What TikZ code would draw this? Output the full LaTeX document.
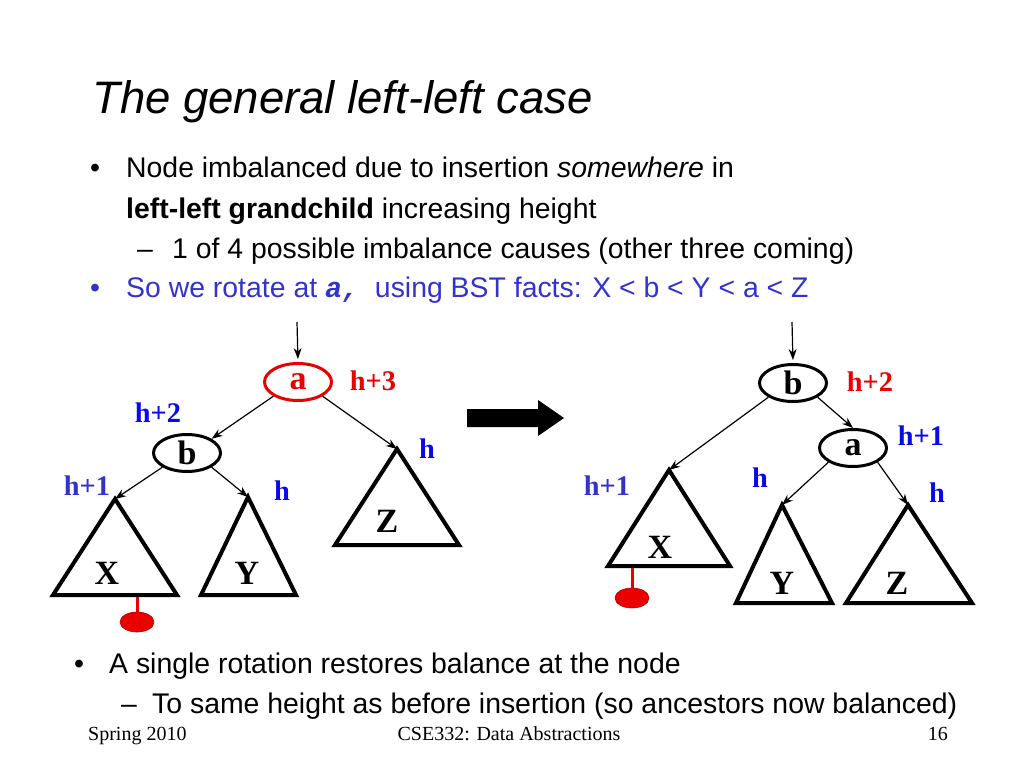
\documentclass[tikz,border=0pt]{standalone}
\usepackage{fontspec}
\setmainfont{Liberation Sans}
\setmonofont{Liberation Mono}
\newfontfamily\serifb{Liberation Serif}
\usetikzlibrary{shapes.geometric,arrows.meta}
\definecolor{txtblue}{RGB}{51,51,204}
\definecolor{hblue}{RGB}{10,10,230}
\definecolor{hred}{RGB}{235,0,0}
\definecolor{dotred}{RGB}{235,0,0}
\begin{document}
\begin{tikzpicture}[x=1pt,y=-1pt,
  tnode/.style={ellipse, draw, line width=3pt, minimum width=67pt, minimum height=37pt, inner sep=0pt,
    font=\serifb\bfseries\fontsize{34}{34}\selectfont},
  tlab/.style={inner sep=0pt, font=\serifb\bfseries\fontsize{34}{34}\selectfont},
  hlab/.style={inner sep=0pt, font=\serifb\bfseries\fontsize{28.4}{30}\selectfont},
  tri/.style={line width=4pt, line join=miter},
  edge/.style={line width=1.2pt, -{Stealth[length=11pt,width=8pt]}},
  body/.style={anchor=base west, inner sep=0pt, font=\fontsize{28.4}{34}\selectfont},
  foot/.style={anchor=base, inner sep=0pt, font=\serifb\fontsize{20}{24}\selectfont},
  insline/.style={draw=dotred, line width=3pt},
  insdot/.style={ellipse, fill=dotred, draw=red!70!black, line width=0.6pt, minimum width=34pt, minimum height=20pt, inner sep=0pt}
]
\useasboundingbox (0,0) rectangle (1024,768);

% ---- title and text ----
\node[anchor=base west, inner sep=0pt, font=\itshape\fontsize{45.5}{50}\selectfont] (title) at (92,113) {The general left-left case};
\node[body] (b1) at (90,177) {•};
\node[body] (t1) at (126,177) {Node imbalanced due to insertion \textit{somewhere} in};
\node[body] (t2) at (126,218) {\textbf{left-left grandchild} increasing height};
\node[body] (d3) at (137,258) {–};
\node[body] (t3) at (172,258) {1 of 4 possible imbalance causes (other three coming)};
\node[body, text=txtblue] (b4) at (90,297) {•};
\node[body, text=txtblue] (t4) at (126,297) {So we rotate at {\ttfamily\bfseries\itshape a,} \ using BST facts: X < b < Y < a < Z};

\node[body] (b5) at (74,673) {•};
\node[body] (t5) at (109,673) {A single rotation restores balance at the node};
\node[body] (d6) at (121,713) {–};
\node[body] (t6) at (152,713) {To same height as before insertion (so ancestors now balanced)};

\node[foot, anchor=base west] (f1) at (88,740) {Spring 2010};
\node[foot] (f2) at (509,740) {CSE332: Data Abstractions};
\node[foot, anchor=base east] (f3) at (948,740) {16};

% ---- big arrow ----
\fill (467,409) -- (538,409) -- (538,400) -- (564,418) -- (538,436) -- (538,427) -- (467,427) -- cycle;

% ---- left tree ----
\node[tnode, draw=hred, text=hred] (la) at (298,382) {a};
\node[tnode] (lb) at (187,453) {b};
\coordinate (inLA) at (297,322);
\draw[edge, shorten >=3pt] (inLA) -- (la.north);

\coordinate (lXt) at (115,499);
\coordinate (lYt) at (248,497);
\coordinate (lZt) at (397,449);
\draw[tri] (lXt) -- (53,595) -- (177,595) -- cycle;
\draw[tri] (lYt) -- (201,595) -- (296,595) -- cycle;
\draw[tri] (lZt) -- (335,545) -- (459,545) -- cycle;
\node[tlab] (lX) at (107,573) {X};
\node[tlab] (lY) at (247,573) {Y};
\node[tlab] (lZ) at (387,521) {Z};

\draw[edge] (la.210) -- (lb.30);
\draw[edge] (la.330) -- (lZt);
\draw[edge] (lb.210) -- (lXt);
\draw[edge] (lb.330) -- (lYt);

\node[hlab, text=hred] (lh3) at (373,381) {h+3};
\node[hlab, text=hblue] (lh2) at (158,413) {h+2};
\node[hlab, text=hblue] (lhz) at (427,449) {h};
\node[hlab, text=txtblue] (lh1) at (87,486) {h+1};
\node[hlab, text=hblue] (lhy) at (282,491) {h};

\coordinate (lins) at (137,597);
\node[insdot] (ldot) at (137,622) {};
\draw[insline] (lins) -- (ldot.north);

% ---- right tree ----
\node[tnode] (rb) at (793,383) {b};
\node[tnode] (ra) at (853,448) {a};
\coordinate (inRB) at (792,322);
\draw[edge, shorten >=3pt] (inRB) -- (rb.north);

\coordinate (rXt) at (669,470);
\coordinate (rYt) at (782,505);
\coordinate (rZt) at (908,505);
\draw[tri] (rXt) -- (608,566) -- (730,566) -- cycle;
\draw[tri] (rYt) -- (736,603) -- (832,603) -- cycle;
\draw[tri] (rZt) -- (846,603) -- (972,603) -- cycle;
\node[tlab] (rX) at (660,547) {X};
\node[tlab] (rY) at (782,583) {Y};
\node[tlab] (rZ) at (897,583) {Z};

\draw[edge] (rb.330) -- (ra.north);
\draw[edge] (rb.210) -- (rXt);
\draw[edge] (ra.210) -- (rYt);
\draw[edge] (ra.330) -- (rZt);

\node[hlab, text=hred] (rh2) at (870,382) {h+2};
\node[hlab, text=hblue] (rh1a) at (921,436) {h+1};
\node[hlab, text=txtblue] (rh1x) at (607,486) {h+1};
\node[hlab, text=hblue] (rhy) at (760,478) {h};
\node[hlab, text=hblue] (rhz) at (937,493) {h};

\coordinate (rins) at (632,568);
\node[insdot] (rdot) at (632,598) {};
\draw[insline] (rins) -- (rdot.north);
\end{tikzpicture}
\end{document}
